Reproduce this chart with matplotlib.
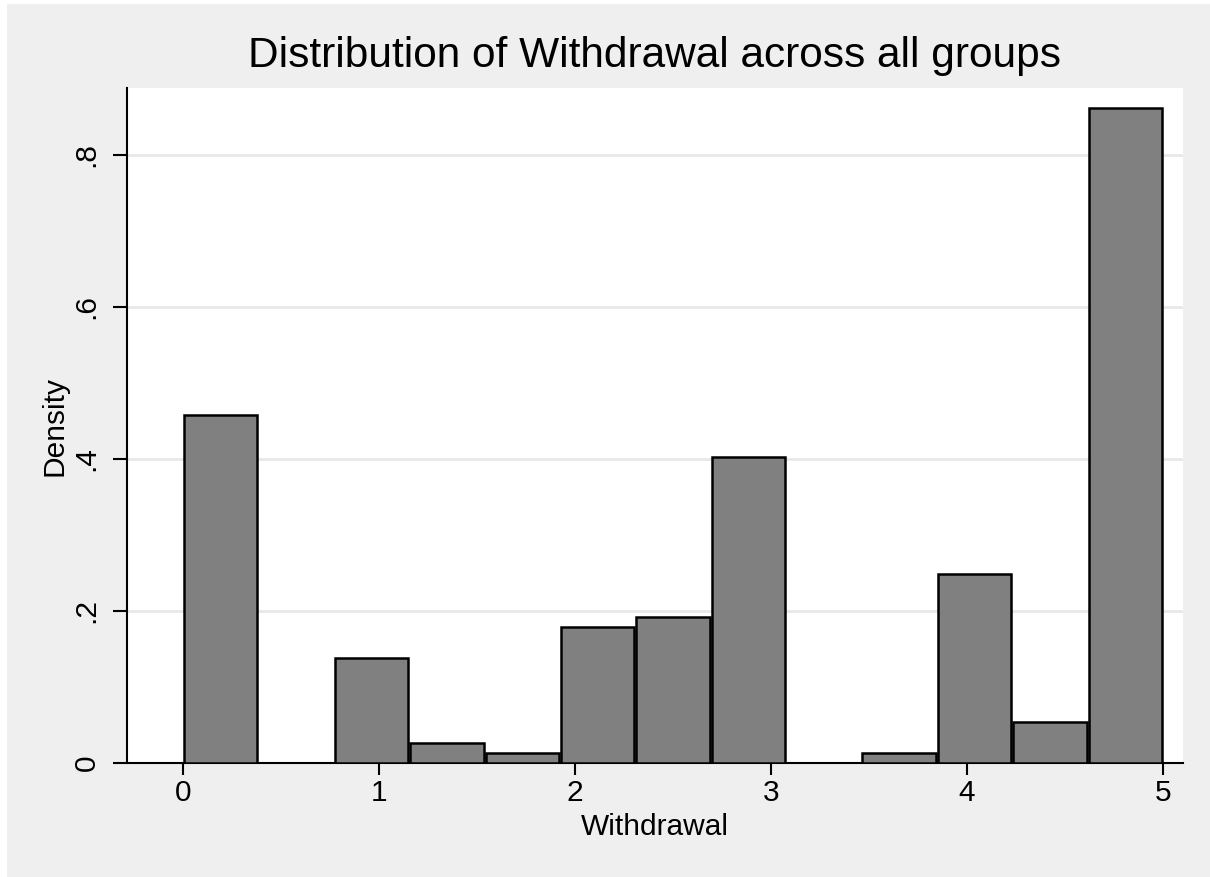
import numpy as np
import matplotlib.pyplot as plt
from matplotlib.patches import Rectangle

# histogram of Withdrawal, 13 bins over [0, 5]
bin_edges = np.linspace(0, 5, 14)
density = [0.458, 0.0, 0.138, 0.026, 0.013, 0.179, 0.192, 0.403,
           0.0, 0.013, 0.249, 0.054, 0.862]
yticks = [0, 0.2, 0.4, 0.6, 0.8]
ytick_labels = ['0', '.2', '.4', '.6', '.8']
xticks = [0, 1, 2, 3, 4, 5]

plt.rcParams['font.family'] = ['Liberation Sans', 'DejaVu Sans']

fig = plt.figure(figsize=(12.1, 8.77), dpi=100)
fig.patch.set_facecolor('white')
fig.patches.append(Rectangle((7 / 1210, 0), 1 - 7 / 1210, 1 - 4 / 877,
                             transform=fig.transFigure, facecolor='#efefef',
                             edgecolor='none', zorder=-10))

ax = fig.add_axes([127 / 1210, 1 - 763 / 877, (1183 - 127) / 1210, (763 - 88) / 877])
ax.set_facecolor('white')

# stata draws each bar with its own outline, so leave a hair of space between them
widths = np.diff(bin_edges)
for left, w, h in zip(bin_edges[:-1], widths, density):
    if h > 0:
        ax.bar(left + w / 2, h, width=w * 0.975, align='center', color='#808080',
               edgecolor='black', linewidth=1.8, zorder=3)

ax.set_xlim(-0.286, 5.102)
ax.set_ylim(0, 0.888)

ax.set_yticks(yticks)
ax.set_yticklabels(ytick_labels, rotation=90, va='center')
ax.set_xticks(xticks)
ax.set_xticklabels([str(t) for t in xticks])
ax.tick_params(axis='both', labelsize=21.5, width=1.5, color='black')
ax.tick_params(axis='y', length=10, pad=9)
ax.tick_params(axis='x', length=8.5, pad=3)

ax.grid(axis='y', color='#e8e8e8', linewidth=2, zorder=0)
ax.set_axisbelow(True)

for side in ['top', 'right']:
    ax.spines[side].set_visible(False)
for side in ['left', 'bottom']:
    ax.spines[side].set_linewidth(1.5)

ax.set_xlabel('Withdrawal', fontsize=21.5, labelpad=4.5)
ax.set_ylabel('Density', fontsize=21.5, labelpad=3)
fig.text(655 / 1210, 1 - 56 / 877, 'Distribution of Withdrawal across all groups',
         fontsize=30.5, ha='center', va='center')

fig.savefig('out.png', dpi=100)
